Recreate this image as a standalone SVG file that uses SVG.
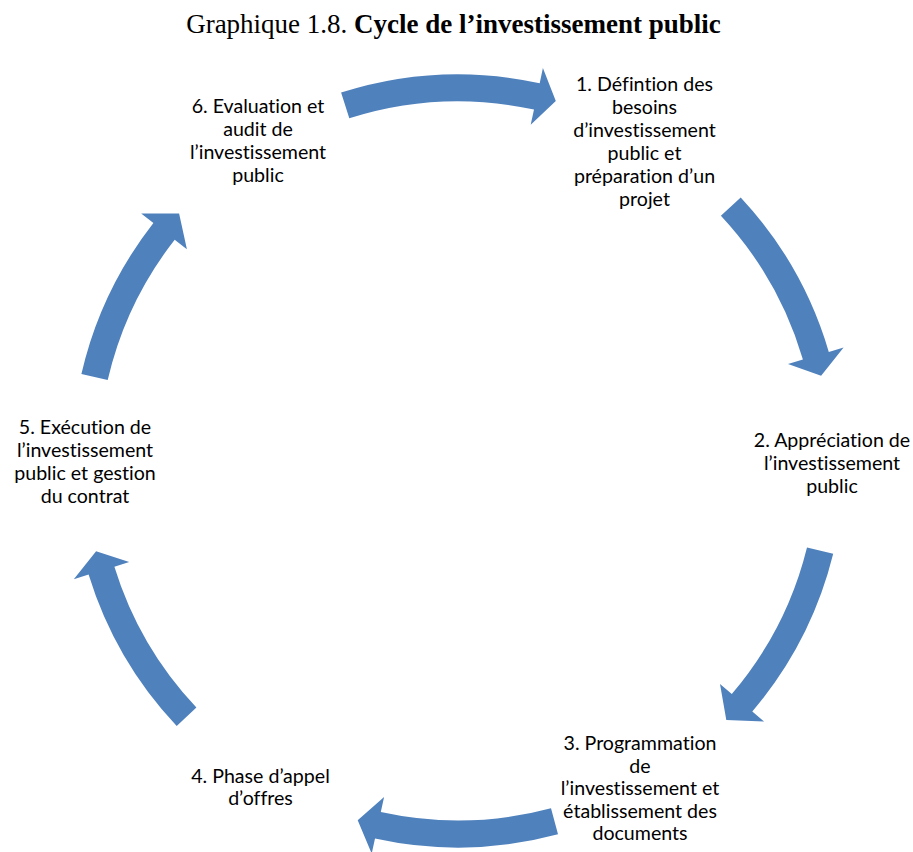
<svg xmlns="http://www.w3.org/2000/svg" width="913" height="852" viewBox="0 0 913 852">
<style>
.arrow{fill:#4F81BD;stroke:none}
.lbl{font-family:Lato,"Liberation Sans",sans-serif;font-size:19.6px;fill:#000;text-anchor:middle;font-variant-ligatures:none}
.title{font-family:"Liberation Serif",serif;font-size:27px;fill:#000;text-anchor:middle}
</style>
<rect width="913" height="852" fill="#fff"/>
<text class="title" x="453.5" y="33">Graphique 1.8. <tspan font-weight="bold">Cycle de l’investissement public</tspan></text>
<g id="connectors">
<path id="a1" class="arrow" d="M341.1,92.6 A386.5,386.5 0 0 1 539.7,83.2 L542.9,68.1 L555.8,101 L530.7,124.8 L534,109.6 A359.5,359.5 0 0 0 349.3,118.3 Z"/>
<path id="a2" class="arrow" d="M740.7,197.4 A386.5,386.5 0 0 1 828.8,351.9 L843.6,347.5 L821.1,375.8 L788,363.9 L802.9,359.5 A359.5,359.5 0 0 0 720.9,215.8 Z"/>
<path id="a3" class="arrow" d="M833.2,553.8 A386.5,386.5 0 0 1 752.3,711.5 L764.1,721.5 L726.3,720.1 L720,683.9 L731.8,694 A359.5,359.5 0 0 0 807,547.4 Z"/>
<path id="a4" class="arrow" d="M558,834.3 A386.5,386.5 0 0 1 375,838.5 L371.7,853.6 L357.7,820.3 L384.1,797 L380.8,812.1 A359.5,359.5 0 0 0 551,808.2 Z"/>
<path id="a5" class="arrow" d="M176.7,726.1 A386.5,386.5 0 0 1 88.6,574.6 L73.8,579.2 L96.1,551.2 L129.2,562.1 L114.4,566.7 A359.5,359.5 0 0 0 196.4,707.5 Z"/>
<path id="a6" class="arrow" d="M81.4,374 A386.5,386.5 0 0 1 153.4,223 L141.2,213.5 L179.1,213.4 L186.9,249.2 L174.7,239.7 A359.5,359.5 0 0 0 107.7,380.1 Z"/>
</g>
<g id="node1">
<text class="lbl"><tspan x="644.5" y="91">1. Défintion des</tspan><tspan x="644.5" y="114">besoins</tspan><tspan x="644.5" y="137">d’investissement</tspan><tspan x="644.5" y="160">public et</tspan><tspan x="644.5" y="183">préparation d’un</tspan><tspan x="644.5" y="206">projet</tspan></text>
</g>
<g id="node2">
<text class="lbl"><tspan x="832" y="446.5">2. Appréciation de</tspan><tspan x="832" y="469.5">l’investissement</tspan><tspan x="832" y="492.5">public</tspan></text>
</g>
<g id="node3">
<text class="lbl"><tspan x="640" y="750">3. Programmation</tspan><tspan x="640" y="772.6">de</tspan><tspan x="640" y="795.2">l’investissement et</tspan><tspan x="640" y="817.8">établissement des</tspan><tspan x="640" y="840.4">documents</tspan></text>
</g>
<g id="node4">
<text class="lbl"><tspan x="260.5" y="782.5">4. Phase d’appel</tspan><tspan x="260.5" y="805.1">d’offres</tspan></text>
</g>
<g id="node5">
<text class="lbl"><tspan x="85" y="434">5. Exécution de</tspan><tspan x="85" y="457">l’investissement</tspan><tspan x="85" y="480">public et gestion</tspan><tspan x="85" y="503">du contrat</tspan></text>
</g>
<g id="node6">
<text class="lbl"><tspan x="258" y="112.5">6. Evaluation et</tspan><tspan x="258" y="135.5">audit de</tspan><tspan x="258" y="158.5">l’investissement</tspan><tspan x="258" y="181.5">public</tspan></text>
</g>
</svg>
